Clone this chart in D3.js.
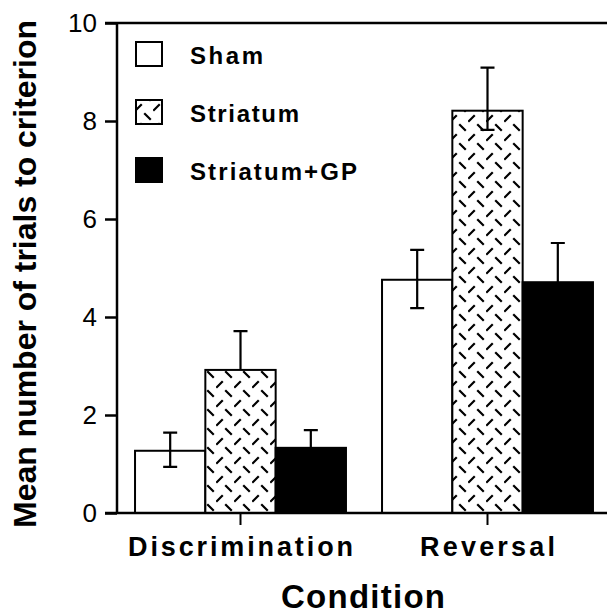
<!DOCTYPE html>
<html>
<head>
<meta charset="utf-8">
<script src="https://cdn.jsdelivr.net/npm/d3@7"></script>
<style>
  body { margin: 0; background: #fff; }
  svg { display: block; font-family: "Liberation Sans", Arial, Helvetica, sans-serif; }
</style>
</head>
<body>
<svg id="chart"></svg>
<script>
const conditions = ['Discrimination', 'Reversal'];
const groups = ['Sham', 'Striatum', 'Striatum+GP'];

// mean trials to criterion, one value per condition
const shamMean = [1.27, 4.76];
const striatumMean = [2.92, 8.21];
const striatumGpMean = [1.33, 4.71];

// error bar extents above / below the mean
const shamErrUp = [0.37, 0.61];
const shamErrDown = [0.33, 0.58];
const striatumErrUp = [0.79, 0.88];
const striatumErrDown = [0, 0.39];
const striatumGpErrUp = [0.36, 0.80];
const striatumGpErrDown = [0.36, 0.80];

const yTicks = [0, 2, 4, 6, 8, 10];

function translate(x, y) {
    return `translate(${x}, ${y})`;
}

const W = 607, H = 614;
const svg = d3.select('#chart').attr('width', W).attr('height', H);

const defs = svg.append('defs');
const hatch = defs.append('pattern')
    .attr('id', 'hatch')
    .attr('patternUnits', 'userSpaceOnUse')
    .attr('width', 18).attr('height', 19);
hatch.append('rect').attr('width', 18).attr('height', 19).attr('fill', '#fff');
hatch.append('path')
    .attr('d', 'M1,7 L6,2 M10,11 L15,16')
    .attr('stroke', '#000').attr('stroke-width', 2.2).attr('stroke-linecap', 'square');

const fills = { 'Sham': '#fff', 'Striatum': 'url(#hatch)', 'Striatum+GP': '#000' };

const rows = [
    { key: 'Sham', mean: shamMean, up: shamErrUp, down: shamErrDown },
    { key: 'Striatum', mean: striatumMean, up: striatumErrUp, down: striatumErrDown },
    { key: 'Striatum+GP', mean: striatumGpMean, up: striatumGpErrUp, down: striatumGpErrDown },
];

const marks = [];
conditions.forEach((c, i) => {
    rows.forEach(r => {
        marks.push({ cond: c, key: r.key, value: r.mean[i], up: r.up[i], down: r.down[i] });
    });
});

const plotLeft = 117, plotTop = 23, plotBottom = 513;
const y = d3.scaleLinear().domain([0, 10]).range([plotBottom, plotTop]);
const x = d3.scaleBand().domain(conditions).range([plotLeft, 611])
    .paddingInner(0.146).paddingOuter(0.073);
const subx = d3.scaleBand().domain(groups).range([0, x.bandwidth()]);

// bars
svg.append('g').selectAll('rect').data(marks).enter().append('rect')
    .attr('x', d => x(d.cond) + subx(d.key))
    .attr('y', d => y(d.value))
    .attr('width', subx.bandwidth())
    .attr('height', d => y(0) - y(d.value))
    .style('fill', d => fills[d.key])
    .style('stroke', '#000')
    .style('stroke-width', 2);

// error bars
const capW = 14;
const err = svg.append('g').selectAll('g').data(marks).enter().append('g')
    .attr('transform', d => translate(x(d.cond) + subx(d.key) + subx.bandwidth() / 2, 0))
    .style('stroke', '#000').style('stroke-width', 2.2).style('fill', 'none');
err.append('path')
    .attr('d', d => `M0,${y(d.value)}V${y(d.value + d.up)}M${-capW / 2},${y(d.value + d.up)}H${capW / 2}`);
err.filter(d => d.down > 0).append('path')
    .attr('d', d => `M0,${y(d.value)}V${y(d.value - d.down)}M${-capW / 2},${y(d.value - d.down)}H${capW / 2}`);

// axes
const yAxis = d3.axisLeft(y).tickValues(yTicks).tickSize(12).tickSizeOuter(0).tickPadding(8);
const yAxisG = svg.append('g').attr('transform', translate(plotLeft, 0)).call(yAxis);
yAxisG.select('.domain').remove();
yAxisG.selectAll('.tick line').attr('stroke', '#000').attr('stroke-width', 2.5);
yAxisG.selectAll('.tick text')
    .attr('fill', '#000')
    .style('font-size', '26px')
    .attr('dy', '0.34em');

svg.append('line').attr('x1', plotLeft).attr('x2', plotLeft).attr('y1', plotTop - 1).attr('y2', plotBottom + 1)
    .attr('stroke', '#000').attr('stroke-width', 2.5);
svg.append('line').attr('x1', 105).attr('x2', W).attr('y1', plotTop).attr('y2', plotTop)
    .attr('stroke', '#000').attr('stroke-width', 2.5);
svg.append('line').attr('x1', 105).attr('x2', W).attr('y1', plotBottom).attr('y2', plotBottom)
    .attr('stroke', '#000').attr('stroke-width', 2.5);

const condWidths = { 'Discrimination': 225, 'Reversal': 135 };
const xAxis = d3.axisBottom(x).tickSize(12).tickSizeOuter(0).tickPadding(12);
const xAxisG = svg.append('g').attr('transform', translate(0, plotBottom)).call(xAxis);
xAxisG.select('.domain').remove();
xAxisG.selectAll('.tick line').attr('stroke', '#000').attr('stroke-width', 2);
xAxisG.selectAll('.tick text')
    .attr('fill', '#000')
    .style('font-size', '27px')
    .style('font-weight', 'bold')
    .attr('textLength', d => condWidths[d])
    .attr('lengthAdjust', 'spacing');

// axis titles
svg.append('text')
    .attr('transform', translate(363, 608))
    .style('text-anchor', 'middle')
    .style('font-size', '33px')
    .style('font-weight', 'bold')
    .attr('textLength', 164).attr('lengthAdjust', 'spacing')
    .text('Condition');

svg.append('text')
    .attr('transform', translate(36, 274) + ' rotate(-90)')
    .style('text-anchor', 'middle')
    .style('font-size', '32px')
    .style('font-weight', 'bold')
    .attr('textLength', 508).attr('lengthAdjust', 'spacing')
    .text('Mean number of trials to criterion');

// legend
const legendWidths = { 'Sham': 73, 'Striatum': 109, 'Striatum+GP': 167 };
const legendBase = [64, 122, 180];
const legend = svg.append('g').selectAll('g').data(groups).enter().append('g')
    .attr('transform', (d, i) => translate(135, legendBase[i]));
legend.append('rect')
    .attr('x', 1).attr('y', -22)
    .attr('width', 26).attr('height', 24)
    .style('fill', d => fills[d])
    .style('stroke', '#000').style('stroke-width', 2);
legend.append('text')
    .attr('x', 55)
    .style('font-size', '24px')
    .style('font-weight', 'bold')
    .attr('textLength', d => legendWidths[d]).attr('lengthAdjust', 'spacing')
    .text(d => d);
</script>
</body>
</html>
